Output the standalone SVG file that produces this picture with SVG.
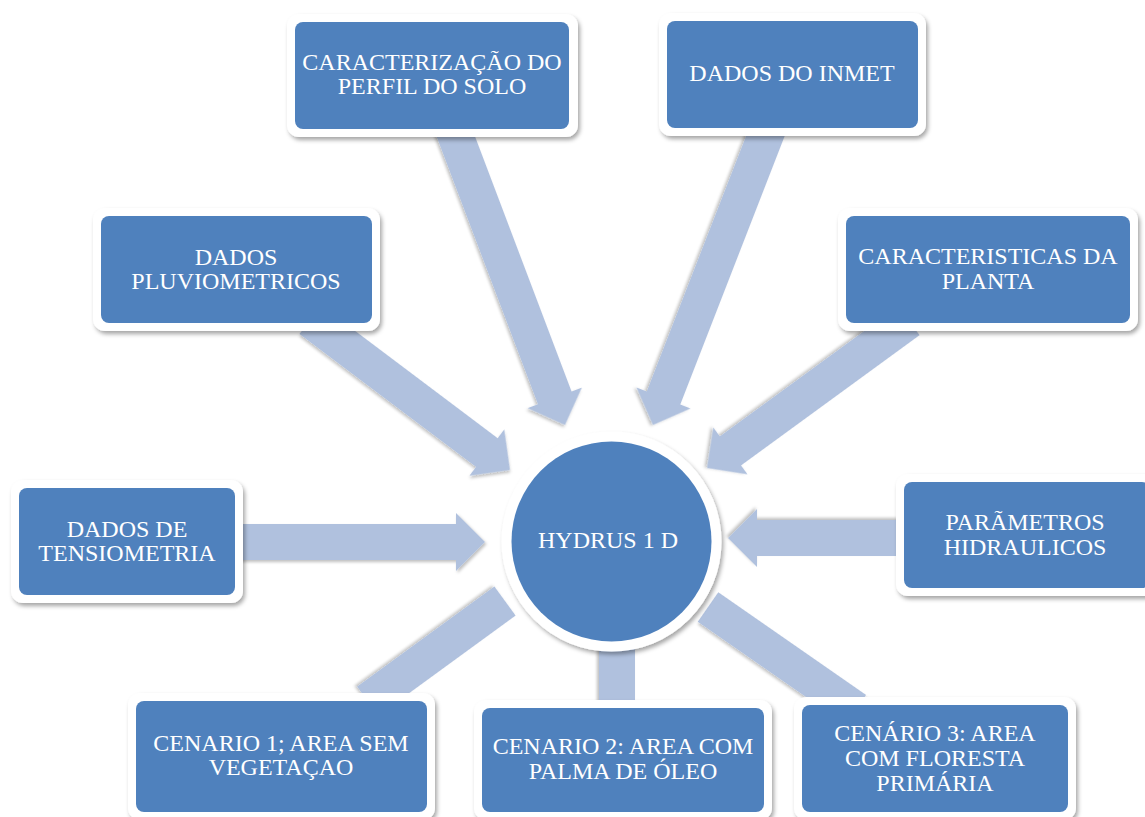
<svg xmlns="http://www.w3.org/2000/svg" width="1145" height="817" viewBox="0 0 1145 817">
<defs>
<filter id="sh" x="-10%" y="-10%" width="130%" height="130%">
<feDropShadow dx="2" dy="3" stdDeviation="2" flood-color="#000" flood-opacity="0.35"/>
</filter>
<filter id="ash" x="-10%" y="-10%" width="130%" height="130%">
<feDropShadow dx="1.5" dy="2" stdDeviation="1.5" flood-color="#000" flood-opacity="0.25"/>
</filter>
<style>
.arr{fill:#B0C1DE;filter:url(#ash)}
.outer{fill:#FFFFFF;filter:url(#sh)}
.inner{fill:#4F81BD}
.t{font-family:"Liberation Serif","Times New Roman",serif;font-size:24px;fill:#FFFFFF;text-anchor:middle}
</style>
</defs>
<rect width="1145" height="817" fill="#FFFFFF"/>
<g id="connectors">
<path class="arr" transform="translate(565,425) rotate(69.27)" d="M-330,-18 H-29 V-29 L0,0 L-29,29 V18 H-330 Z"/>
<path class="arr" transform="translate(653,425) rotate(111.25)" d="M-330,-18 H-29 V-29 L0,0 L-29,29 V18 H-330 Z"/>
<path class="arr" transform="translate(510,470) rotate(36.97)" d="M-250,-18 H-29 V-29 L0,0 L-29,29 V18 H-250 Z"/>
<path class="arr" transform="translate(707,468) rotate(143.88)" d="M-250,-18 H-29 V-29 L0,0 L-29,29 V18 H-250 Z"/>
<path class="arr" transform="translate(485,542)" d="M-260,-18 H-29 V-29 L0,0 L-29,29 V18 H-260 Z"/>
<path class="arr" transform="translate(728,538) rotate(180)" d="M-190,-18 H-29 V-29 L0,0 L-29,29 V18 H-190 Z"/>
<rect class="arr" transform="translate(505,601) rotate(143.9)" x="0" y="-18" width="170" height="36"/>
<rect class="arr" transform="translate(617,630) rotate(90)" x="0" y="-18" width="100" height="36"/>
<rect class="arr" transform="translate(708,607) rotate(34.8)" x="0" y="-18" width="180" height="36"/>
</g>
<g id="hydrus">
<circle class="outer" cx="611.5" cy="541.5" r="110"/>
<circle class="inner" cx="611.5" cy="541.5" r="100"/>
<text class="t" x="608" y="548">HYDRUS 1 D</text>
</g>
<g id="caracterizacao">
<rect class="outer" x="287" y="14" width="291" height="123" rx="12"/>
<rect class="inner" x="295" y="22" width="274" height="107" rx="8"/>
<text class="t" x="432" y="70">CARACTERIZAÇÃO DO</text>
<text class="t" x="432" y="94">PERFIL DO SOLO</text>
</g>
<g id="inmet">
<rect class="outer" x="659" y="13" width="267" height="123" rx="12"/>
<rect class="inner" x="667" y="21" width="251" height="107" rx="8"/>
<text class="t" x="792" y="81">DADOS DO INMET</text>
</g>
<g id="pluviometricos">
<rect class="outer" x="93" y="208" width="287" height="123" rx="12"/>
<rect class="inner" x="101" y="216" width="271" height="107" rx="8"/>
<text class="t" x="236" y="265">DADOS</text>
<text class="t" x="236" y="289">PLUVIOMETRICOS</text>
</g>
<g id="planta">
<rect class="outer" x="838" y="208" width="300" height="123" rx="12"/>
<rect class="inner" x="846" y="216" width="284" height="107" rx="8"/>
<text class="t" x="988" y="264">CARACTERISTICAS DA</text>
<text class="t" x="988" y="289">PLANTA</text>
</g>
<g id="tensiometria">
<rect class="outer" x="11" y="480" width="232" height="123" rx="12"/>
<rect class="inner" x="19" y="488" width="216" height="107" rx="8"/>
<text class="t" x="127" y="537">DADOS DE</text>
<text class="t" x="127" y="561">TENSIOMETRIA</text>
</g>
<g id="parametros">
<rect class="outer" x="896" y="474" width="262" height="122" rx="12"/>
<rect class="inner" x="904" y="482" width="246" height="106" rx="8"/>
<text class="t" x="1025" y="530">PARÃMETROS</text>
<text class="t" x="1025" y="555">HIDRAULICOS</text>
</g>
<g id="cenario1">
<rect class="outer" x="128" y="693" width="307" height="127" rx="12"/>
<rect class="inner" x="136" y="701" width="291" height="111" rx="8"/>
<text class="t" x="281" y="751">CENARIO 1; AREA SEM</text>
<text class="t" x="281" y="775">VEGETAÇAO</text>
</g>
<g id="cenario2">
<rect class="outer" x="474" y="700" width="298" height="120" rx="12"/>
<rect class="inner" x="482" y="708" width="282" height="104" rx="8"/>
<text class="t" x="623" y="754">CENARIO 2: AREA COM</text>
<text class="t" x="623" y="779">PALMA DE ÓLEO</text>
</g>
<g id="cenario3">
<rect class="outer" x="794" y="697" width="282" height="123" rx="12"/>
<rect class="inner" x="802" y="705" width="266" height="107" rx="8"/>
<text class="t" x="935" y="741">CENÁRIO 3: AREA</text>
<text class="t" x="935" y="766">COM FLORESTA</text>
<text class="t" x="935" y="791">PRIMÁRIA</text>
</g>
</svg>
